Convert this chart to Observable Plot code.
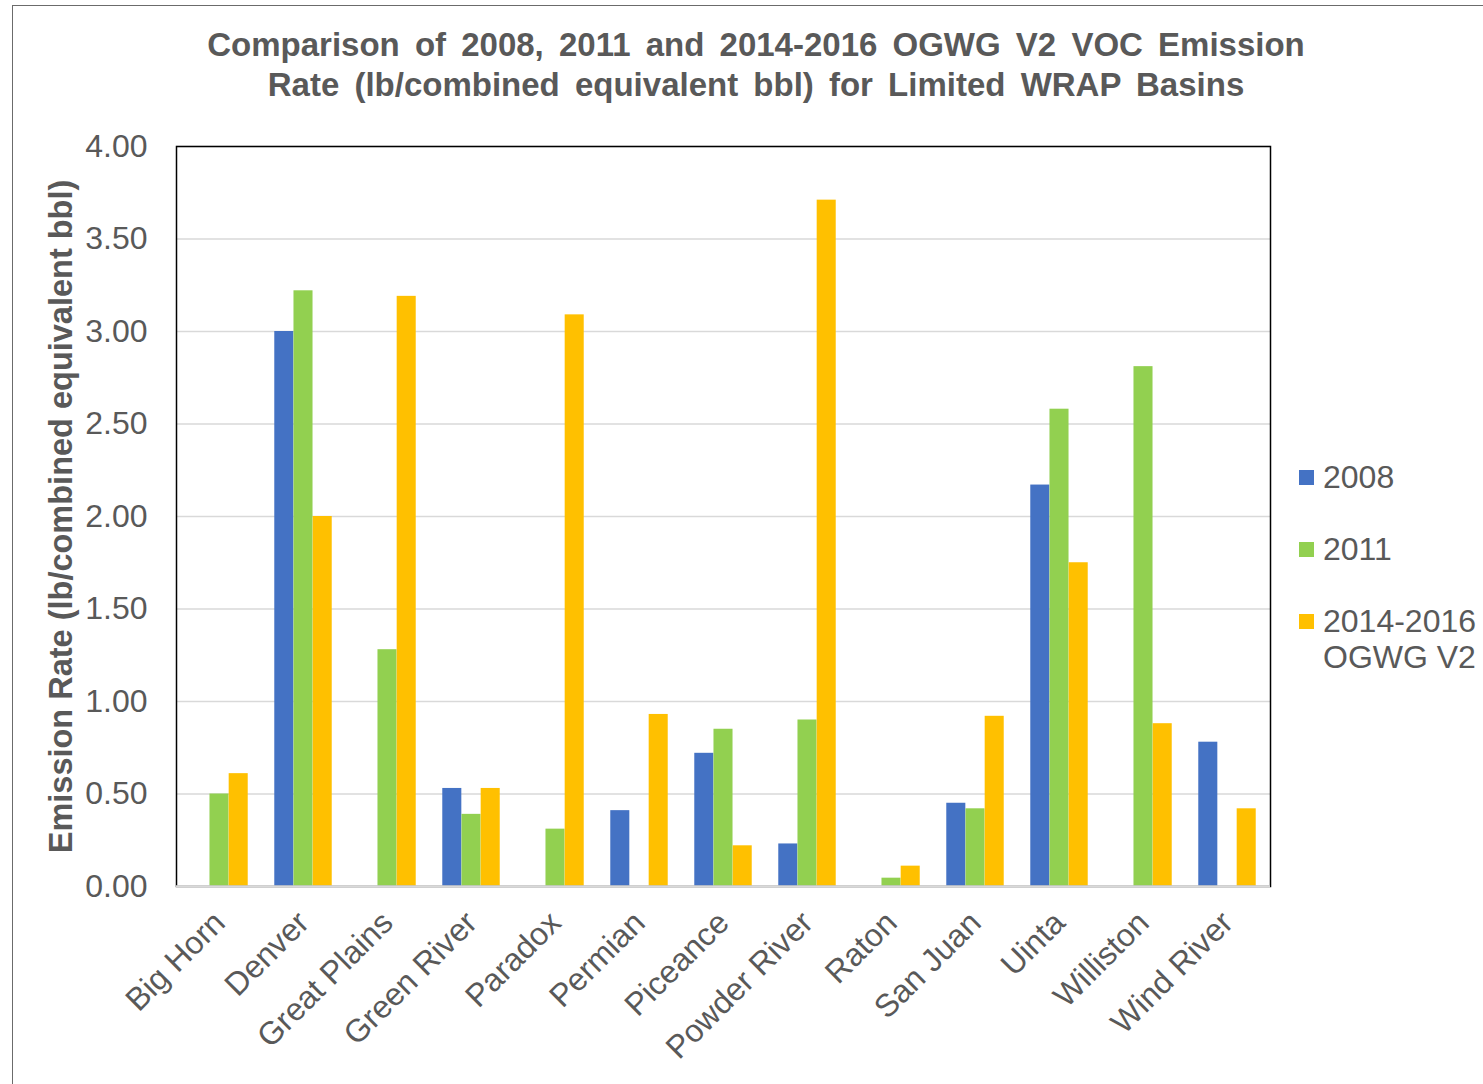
<!DOCTYPE html>
<html>
<head>
<meta charset="utf-8">
<script src="https://cdn.jsdelivr.net/npm/d3@7"></script>
<script src="https://cdn.jsdelivr.net/npm/@observablehq/plot@0.6"></script>
<style>
  html, body { margin: 0; padding: 0; background: #fff; overflow: hidden; }
  body { width: 1483px; height: 1084px; position: relative; font-family: "Liberation Sans", Arial, sans-serif; }
  #border { position: absolute; left: 12px; top: 5px; width: 1500px; height: 1100px; border: 1.5px solid #6b6b6b; box-sizing: border-box; }
  #chart { position: absolute; left: 0; top: 0; }
  #title { position: absolute; left: 0; top: 25px; width: 1512px; text-align: center; font-weight: bold; font-size: 33px; line-height: 40px; color: #595959; word-spacing: 6px; white-space: nowrap; }
  #legend { position: absolute; left: 1299px; top: 459px; color: #595959; font-size: 32px; }
  .li { position: absolute; left: 0; white-space: nowrap; line-height: 36px; }
  .sw { position: absolute; left: 0; top: 10.5px; width: 15px; height: 15px; }
  .lt { position: absolute; left: 24px; top: 0; }
</style>
</head>
<body>
<div id="border"></div>
<div id="chart"></div>
<div id="title">Comparison of 2008, 2011 and 2014-2016 OGWG V2 VOC Emission<br>Rate (lb/combined equivalent bbl) for Limited WRAP Basins</div>
<div id="legend"></div>
<script>
const basins = ["Big Horn","Denver","Great Plains","Green River","Paradox","Permian","Piceance","Powder River","Raton","San Juan","Uinta","Williston","Wind River"];
const seriesNames = ["2008", "2011", "2014-2016 OGWG V2"];
const seriesColors = ["#4472C4", "#92D050", "#FFC000"];
const v2008 = [null, 3.00, null, 0.53, null, 0.41, 0.72, 0.23, null, 0.45, 2.17, null, 0.78];
const v2011 = [0.50, 3.22, 1.28, 0.39, 0.31, null, 0.85, 0.90, 0.045, 0.42, 2.58, 2.81, null];
const v2014 = [0.61, 2.00, 3.19, 0.53, 3.09, 0.93, 0.22, 3.71, 0.11, 0.92, 1.75, 0.88, 0.42];
const yTicks = [0, 0.5, 1, 1.5, 2, 2.5, 3, 3.5, 4];
const yLabel = "Emission Rate (lb/combined equivalent bbl)";

const allSeries = [v2008, v2011, v2014];
const rows = [];
allSeries.forEach((vals, si) => vals.forEach((v, i) => {
  if (v != null) rows.push({basin: basins[i], series: seriesNames[si], si, value: v});
}));

const W = 1483, H = 1084;
const mL = 176, mR = 213, mT = 146, mB = 198;
const band = (W - mL - mR) / basins.length;
const barW = 19.2;
const gap = (band - barW * 3) / 2;

const barMarks = seriesNames.map((s, si) => Plot.barY(rows.filter(r => r.si === si), {
  x: "basin", y: "value", fill: seriesColors[si],
  insetLeft: gap + barW * si, insetRight: band - gap - barW * (si + 1)
}));

const plot = Plot.plot({
  width: W, height: H,
  marginLeft: mL, marginRight: mR, marginTop: mT, marginBottom: mB,
  style: {fontFamily: '"Liberation Sans", Arial, sans-serif', color: "#595959", background: "transparent"},
  x: {type: "band", domain: basins, padding: 0},
  y: {domain: [0, 4]},
  marks: [
    Plot.gridY(yTicks, {stroke: "#d9d9d9", strokeOpacity: 1, strokeWidth: 1.5}),
    ...barMarks,
    Plot.frame({stroke: "#000", strokeWidth: 1.5}),
    Plot.ruleY([0], {stroke: "#d9d9d9", strokeWidth: 2.5}),
    Plot.axisY(yTicks, {tickSize: 0, tickPadding: 29, tickFormat: d3.format(".2f"), fontSize: 32, label: null, fill: "#595959"}),
    Plot.axisX({tickSize: 0, tickPadding: 31, tickRotate: -45, fontSize: 32, label: null, fill: "#595959"}),
    Plot.text([yLabel], {text: d => d, frameAnchor: "left", textAnchor: "middle", rotate: -90, dx: -115, fontSize: 32.5, fontWeight: "bold", fill: "#595959"})
  ]
});
document.getElementById("chart").appendChild(plot);

const legend = document.getElementById("legend");
const legendLines = [["2008"], ["2011"], ["2014-2016", "OGWG V2"]];
const legendTops = [0, 72, 144];
legendLines.forEach((lines, i) => {
  const li = document.createElement("div");
  li.className = "li";
  li.style.top = legendTops[i] + "px";
  li.innerHTML = `<div class="sw" style="background:${seriesColors[i]}"></div><div class="lt">${lines.join("<br>")}</div>`;
  legend.appendChild(li);
});
</script>
</body>
</html>
